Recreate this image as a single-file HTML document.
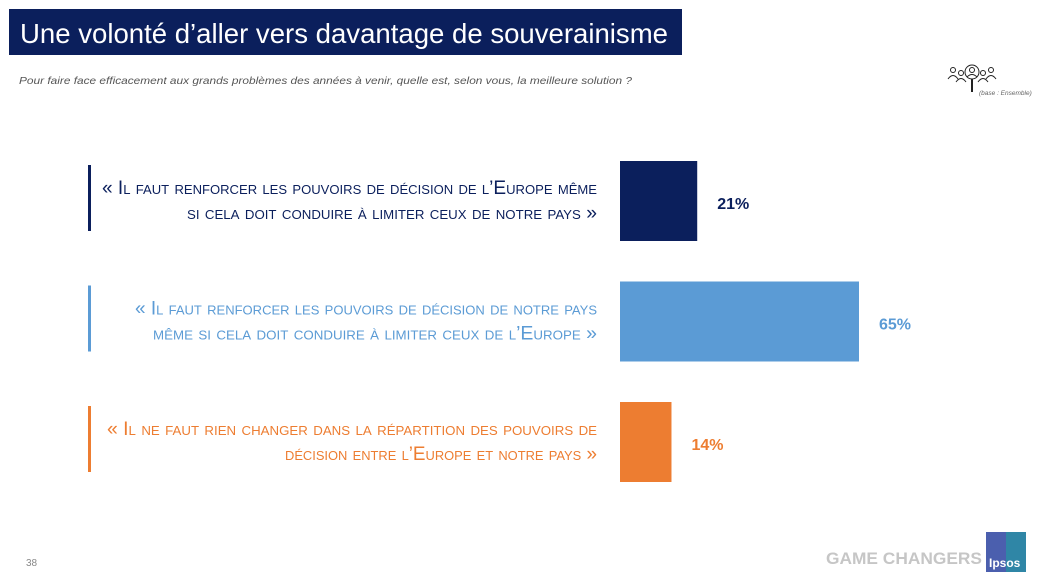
<!DOCTYPE html>
<html><head><meta charset="utf-8"><style>
body{margin:0;width:1055px;height:580px;background:#fff;overflow:hidden;font-family:"Liberation Sans",sans-serif}
svg{display:block}
</style></head><body>
<svg id="chart" width="1055" height="580">
<rect x="9" y="9" width="673" height="46" fill="#0b1f5c"/>
<text x="20" y="43" font-size="28" fill="#fff" textLength="648" lengthAdjust="spacingAndGlyphs">Une volonté d’aller vers davantage de souverainisme</text>
<text x="19" y="84" font-size="10.5" font-style="italic" fill="#555" textLength="613" lengthAdjust="spacingAndGlyphs">Pour faire face efficacement aux grands problèmes des années à venir, quelle est, selon vous, la meilleure solution ?</text>
<g fill="none" stroke="#222" stroke-width="1">
<circle cx="972" cy="72" r="7"/><circle cx="972" cy="70" r="2.5"/><path d="M967 77q5-5 10 0"/>
<circle cx="953" cy="70" r="2.5"/><path d="M948 79q5-7 10 0"/><circle cx="961" cy="73" r="2.5"/><path d="M956 82q5-7 10 0"/>
<circle cx="983" cy="73" r="2.5"/><path d="M978 82q5-7 10 0"/><circle cx="991" cy="70" r="2.5"/><path d="M986 79q5-7 10 0"/>
<line x1="972" y1="79" x2="972" y2="92" stroke-width="2"/></g>
<text x="979" y="95" font-size="6.5" font-style="italic" fill="#666">(base : Ensemble)</text>
<g id="bars"></g>
<text x="26" y="566" font-size="10" fill="#888">38</text>
<text x="826" y="564" font-size="17" font-weight="bold" fill="#c6c6c6" textLength="156" lengthAdjust="spacingAndGlyphs">GAME CHANGERS</text>
<g><rect x="986" y="532" width="40" height="40" fill="#4b5fae"/><path d="M1006 532h20v40h-20z" fill="#1aa5a0" opacity="0.55"/><text x="989" y="567" font-size="12" font-weight="bold" fill="#fff">Ipsos</text></g>
</svg>
<script>
const categories=["europe","nation","status-quo"];
const values=[21,65,14];
const valueLabels=["21%","65%","14%"];
const line1=["« Il faut renforcer les pouvoirs de décision de l’Europe même","« Il faut renforcer les pouvoirs de décision de notre pays","« Il ne faut rien changer dans la répartition des pouvoirs de"];
const line2=["si cela doit conduire à limiter ceux de notre pays »","même si cela doit conduire à limiter ceux de l’Europe »","décision entre l’Europe et notre pays »"];
const colors=["#0b1f5c","#5b9bd5","#ed7d31"];
const w1=[495,462,490],w2=[410,444,312];
const NS="http://www.w3.org/2000/svg";
const g=document.getElementById('bars');
const x0=620,pxPer=239/65;
function xs(v){return v*pxPer;}
function mk(t,a){const e=document.createElementNS(NS,t);for(const k in a)e.setAttribute(k,a[k]);g.appendChild(e);return e;}
values.forEach((v,i)=>{
 const top=161+i*120.5;
 const r=mk('rect',{x:x0,y:top,width:xs(v),height:80,fill:colors[i]});
 
 
 const vl=mk('text',{x:x0+xs(v)+20,y:top+48,'font-size':16,'font-weight':'bold',fill:colors[i]});
 vl.textContent=valueLabels[i];
 
 
 const ln=mk('rect',{x:88,y:top+4,width:3,height:66,fill:colors[i]});
 
 
 [line1[i],line2[i]].forEach((s,j)=>{
  const t=mk('text',{x:597,y:top+33+j*25,'text-anchor':'end','font-size':19,'font-variant':'small-caps',fill:colors[i],textLength:j?w2[i]:w1[i],lengthAdjust:'spacingAndGlyphs'});
  t.textContent=s;
  
  
 });
});
</script>
</body></html>
